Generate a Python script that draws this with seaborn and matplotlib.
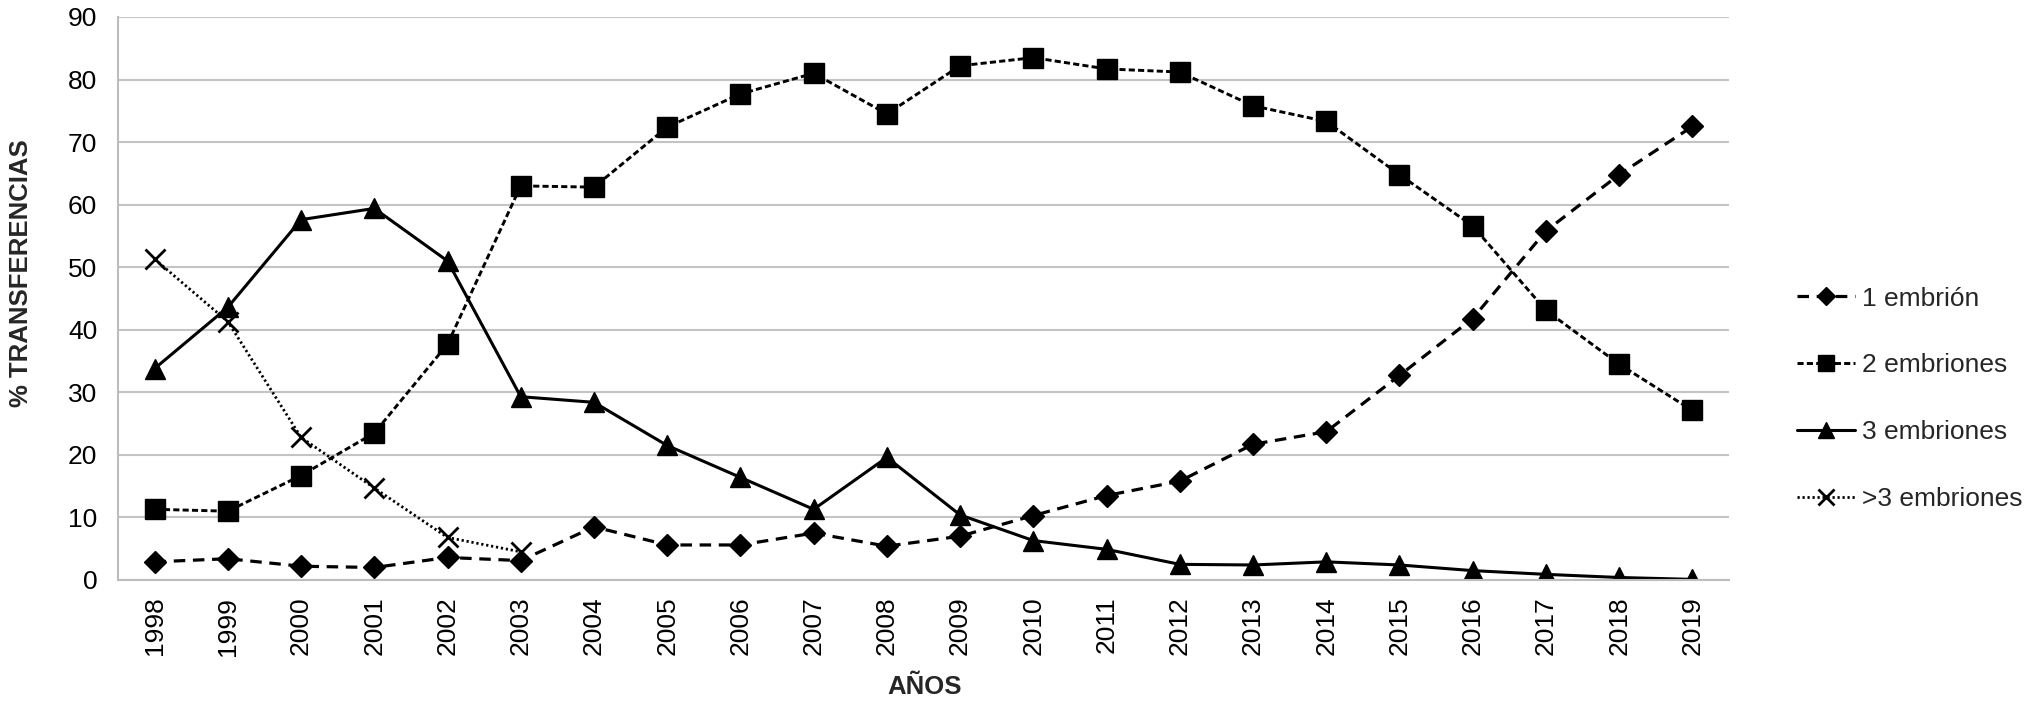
import numpy as np
import matplotlib
matplotlib.use('Agg')
import matplotlib.pyplot as plt
import seaborn as sns

# Data
years = ['1998', '1999', '2000', '2001', '2002', '2003', '2004', '2005', '2006', '2007', '2008',
         '2009', '2010', '2011', '2012', '2013', '2014', '2015', '2016', '2017', '2018', '2019']
uno = [2.9, 3.4, 2.2, 2.0, 3.6, 3.1, 8.5, 5.6, 5.6, 7.5, 5.4,
       7.0, 10.3, 13.5, 15.8, 21.7, 23.7, 32.7, 41.8, 55.8, 64.8, 72.5]
dos = [11.3, 11.0, 16.7, 23.5, 37.7, 63.0, 62.8, 72.4, 77.7, 81.0, 74.5,
       82.2, 83.5, 81.7, 81.2, 75.8, 73.3, 64.8, 56.6, 43.1, 34.5, 27.1]
tres = [33.8, 43.6, 57.6, 59.4, 51.0, 29.3, 28.4, 21.5, 16.4, 11.3, 19.6,
        10.4, 6.3, 4.9, 2.5, 2.4, 2.9, 2.4, 1.5, 0.9, 0.4, 0.1]
mas_tres = [51.3, 41.3, 22.8, 14.7, 6.8, 4.5, np.nan, np.nan, np.nan, np.nan, np.nan,
            np.nan, np.nan, np.nan, np.nan, np.nan, np.nan, np.nan, np.nan, np.nan, np.nan, np.nan]
labels = ['1 embrión', '2 embriones', '3 embriones', '>3 embriones']

sns.set_style('white')
plt.rcParams['font.family'] = ['Liberation Sans', 'DejaVu Sans']

fig = plt.figure(figsize=(20.31, 7.02), dpi=100)
ax = fig.add_axes([0.0581, 0.1738, 0.7932, 0.802])

pos = np.arange(len(years))

# marker, size, linestyle, linewidth, edge width
styles = [
    ('D', 11.5, (0, (3.6, 2.4)), 2.3, 1.0),
    ('s', 15, (0, (2.1, 1.1)), 2.1, 1.0),
    ('^', 14, '-', 2.2, 1.0),
    ('x', 14, (0, (0.8, 1.0)), 2.0, 2.0),
]

for vals, lab, (mk, ms, ls, lw, mew) in zip([uno, dos, tres, mas_tres], labels, styles):
    sns.lineplot(x=pos, y=vals, ax=ax, color='black', marker=mk, markersize=ms,
                 linestyle=ls, linewidth=lw, markeredgecolor='black',
                 markeredgewidth=mew, label=lab, errorbar=None)

ax.set_xticks(pos)
ax.set_xticklabels(years, rotation=90)
ax.set_xlim(-0.5, 21.5)
ax.set_ylim(0, 90)
ax.set_yticks(range(0, 91, 10))

ax.yaxis.grid(True, color='#c4c4c4', linewidth=1.5)
ax.xaxis.grid(False)
ax.set_axisbelow(True)
for s in ['top', 'right']:
    ax.spines[s].set_visible(False)
for s in ['left', 'bottom']:
    ax.spines[s].set_color('#bdbdbd')
    ax.spines[s].set_linewidth(1.5)

ax.tick_params(axis='both', length=0, labelsize=19, colors='black')
ax.tick_params(axis='x', pad=12)
ax.tick_params(axis='y', pad=15)

ax.set_ylabel('% TRANSFERENCIAS', fontsize=18.5, fontweight='bold')
ax.yaxis.set_label_coords(-0.0528, 0.545)
ax.set_xlabel('AÑOS', fontsize=18.5, fontweight='bold')
ax.xaxis.label.set_va('center')
ax.xaxis.set_label_coords(0.501, -0.19)

ax.legend(loc='center left', bbox_to_anchor=(1797 / 2031, 0.432), bbox_transform=fig.transFigure,
          frameon=False, fontsize=19, handlelength=2.2, handletextpad=0.27,
          labelspacing=1.62, borderpad=0, borderaxespad=0, markerscale=0.8)

fig.savefig('out.png', dpi=100)
